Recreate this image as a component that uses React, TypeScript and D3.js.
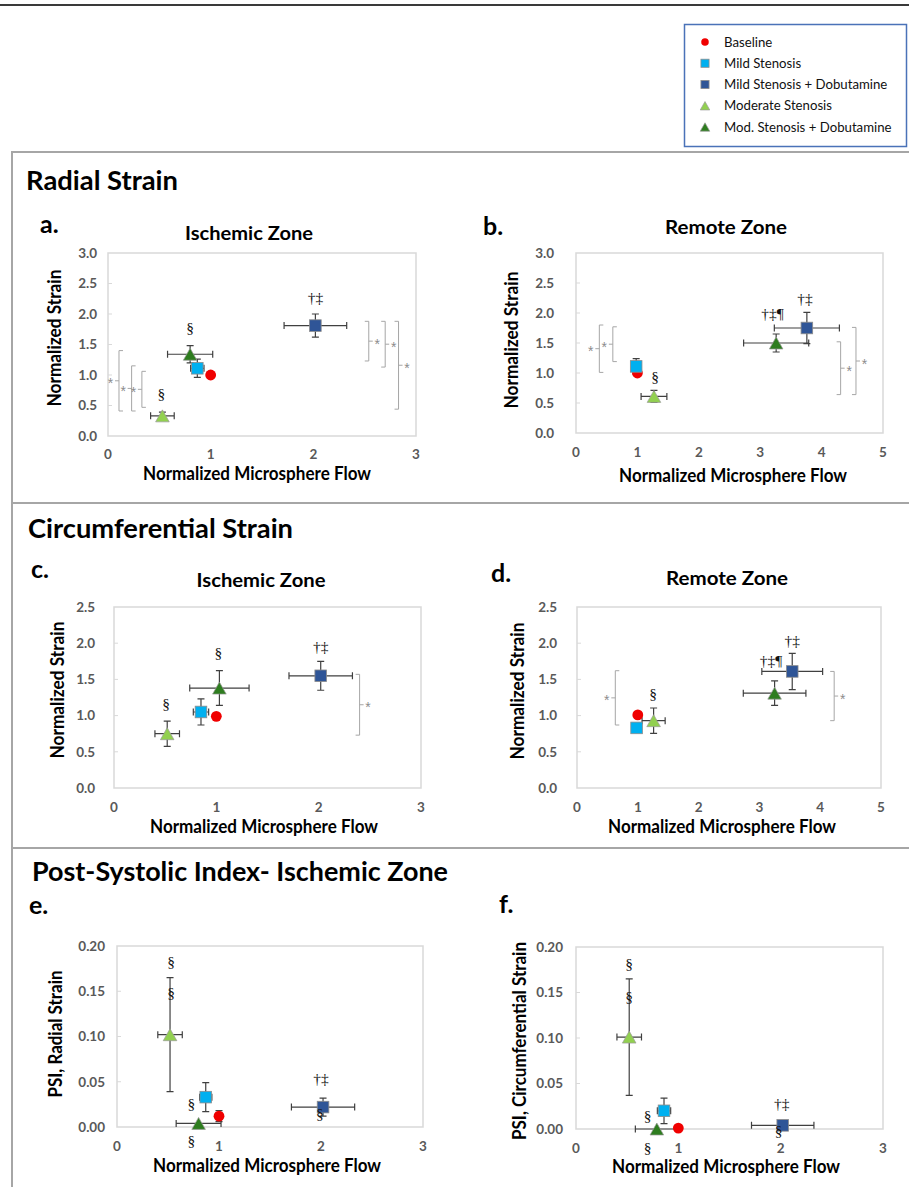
import * as d3 from "d3";

const SANS = "Lato, 'Open Sans', sans-serif";
const SERIF = "'Liberation Serif', 'DejaVu Serif', serif";

// groups, in drawing order
const groups = ["Baseline", "Mild Stenosis", "Mild Stenosis + Dobutamine", "Moderate Stenosis", "Mod. Stenosis + Dobutamine"];
const groupFill = ["#f00000", "#00b0f0", "#2f5597", "#92d050", "#2e7d1f"];
const groupShape = ["circle", "square", "square", "triangle", "triangle"];

// a. radial strain, ischemic zone
const radIscFlow = [1.0, 0.87, 2.02, 0.53, 0.8];
const radIscFlowErr = [0, 0.065, 0.305, 0.115, 0.22];
const radIscStrain = [1.0, 1.11, 1.81, 0.33, 1.34];
const radIscStrainErr = [0, 0.15, 0.19, 0.06, 0.14];

// b. radial strain, remote zone
const radRemFlow = [1.0, 0.98, 3.76, 1.27, 3.26];
const radRemFlowErr = [0, 0, 0.53, 0.21, 0.53];
const radRemStrain = [1.0, 1.11, 1.75, 0.61, 1.5];
const radRemStrainErr = [0, 0.13, 0.26, 0.1, 0.15];

// c. circumferential strain, ischemic zone
const circIscFlow = [1.0, 0.85, 2.02, 0.52, 1.03];
const circIscFlowErr = [0, 0.075, 0.31, 0.12, 0.29];
const circIscStrain = [0.99, 1.05, 1.55, 0.75, 1.38];
const circIscStrainErr = [0, 0.18, 0.2, 0.175, 0.24];

// d. circumferential strain, remote zone
const circRemFlow = [1.0, 0.98, 3.54, 1.26, 3.25];
const circRemFlowErr = [0, 0, 0.5, 0.19, 0.515];
const circRemStrain = [1.01, 0.83, 1.61, 0.93, 1.31];
const circRemStrainErr = [0, 0, 0.25, 0.175, 0.17];

// e. PSI radial strain
const psiRadFlow = [1.0, 0.87, 2.02, 0.52, 0.8];
const psiRadFlowErr = [0, 0.06, 0.31, 0.12, 0.22];
const psiRadValue = [0.012, 0.033, 0.022, 0.102, 0.004];
const psiRadValueErr = [0.006, 0.016, 0.01, 0.063, 0];

// f. PSI circumferential strain
const psiCircFlow = [1.0, 0.86, 2.02, 0.52, 0.79];
const psiCircFlowErr = [0, 0.065, 0.305, 0.12, 0.21];
const psiCircValue = [0.001, 0.02, 0.004, 0.101, 0.0];
const psiCircValueErr = [0, 0.014, 0, 0.064, 0];

// significance marks: [flow, value, text]
const notesA = [[0.8, 1.77, "§"], [0.52, 0.7, "§"], [2.02, 2.27, "†‡"]];
const notesB = [[1.29, 0.94, "§"], [3.2, 1.99, "†‡¶"], [3.73, 2.24, "†‡"]];
const notesC = [[0.51, 1.17, "§"], [1.02, 1.87, "§"], [2.02, 1.96, "†‡"]];
const notesD = [[1.25, 1.3, "§"], [3.19, 1.76, "†‡¶"], [3.54, 2.04, "†‡"]];
const notesE = [[0.53, 0.183, "§"], [0.53, 0.148, "§"], [0.73, 0.026, "§"], [0.73, -0.015, "§"], [2.0, 0.054, "†‡"], [1.99, 0.015, "§"]];
const notesF = [[0.52, 0.182, "§"], [0.52, 0.145, "§"], [0.7, 0.015, "§"], [0.7, -0.02, "§"], [2.01, 0.028, "†‡"], [1.98, -0.002, "§"]];

// comparison brackets: [flow, from, to, side]
const bracketsA = [[0.107, 0.41, 1.4, "L"], [0.23, 0.41, 1.15, "L"], [0.33, 0.47, 1.06, "L"], [2.54, 1.23, 1.88, "R"], [2.7, 1.13, 1.88, "R"], [2.83, 0.44, 1.88, "R"]];
const bracketsB = [[0.38, 1.01, 1.8, "L"], [0.6, 1.19, 1.77, "L"], [4.31, 0.64, 1.52, "R"], [4.56, 0.64, 1.76, "R"]];
const bracketsC = [[2.4, 0.73, 1.57, "R"]];
const bracketsD = [[0.63, 0.87, 1.62, "L"], [4.23, 0.93, 1.61, "R"]];

const panels = [
  { letter: "a.", lx: 40, ly: 233, title: "Ischemic Zone", tx: 249, ty: 240, tw: 128,
    box: [108, 253, 416, 436], xMax: 3, yMax: 3, yStep: 0.5, yFmt: ".1f", yGap: 11, xTickY: 459,
    yLabel: "Normalized Strain", ylx: 61, yly: 338, ylw: 137, xlx: 257, xly: 480,
    x: radIscFlow, xe: radIscFlowErr, y: radIscStrain, ye: radIscStrainErr, notes: notesA, brackets: bracketsA },
  { letter: "b.", lx: 483, ly: 235, title: "Remote Zone", tx: 726, ty: 234, tw: 122,
    box: [576, 253, 883, 433], xMax: 5, yMax: 3, yStep: 0.5, yFmt: ".1f", yGap: 22, xTickY: 457,
    yLabel: "Normalized Strain", ylx: 518, yly: 340, ylw: 137, xlx: 733, xly: 482,
    x: radRemFlow, xe: radRemFlowErr, y: radRemStrain, ye: radRemStrainErr, notes: notesB, brackets: bracketsB },
  { letter: "c.", lx: 31, ly: 578, title: "Ischemic Zone", tx: 261, ty: 587, tw: 129,
    box: [114, 607, 421, 788], xMax: 3, yMax: 2.5, yStep: 0.5, yFmt: ".1f", yGap: 19, xTickY: 812,
    yLabel: "Normalized Strain", ylx: 64, yly: 690, ylw: 137, xlx: 264, xly: 833,
    x: circIscFlow, xe: circIscFlowErr, y: circIscStrain, ye: circIscStrainErr, notes: notesC, brackets: bracketsC },
  { letter: "d.", lx: 491, ly: 582, title: "Remote Zone", tx: 727, ty: 585, tw: 122,
    box: [577, 607, 881, 788], xMax: 5, yMax: 2.5, yStep: 0.5, yFmt: ".1f", yGap: 20, xTickY: 812,
    yLabel: "Normalized Strain", ylx: 524, yly: 691, ylw: 137, xlx: 722, xly: 833,
    x: circRemFlow, xe: circRemFlowErr, y: circRemStrain, ye: circRemStrainErr, notes: notesD, brackets: bracketsD },
  { letter: "e.", lx: 29, ly: 914, title: "", tx: 0, ty: 0, tw: 0,
    box: [117, 946, 423, 1127], xMax: 3, yMax: 0.2, yStep: 0.05, yFmt: ".2f", yGap: 12, xTickY: 1151,
    yLabel: "PSI, Radial Strain", ylx: 62, yly: 1034, ylw: 127, xlx: 267, xly: 1172,
    x: psiRadFlow, xe: psiRadFlowErr, y: psiRadValue, ye: psiRadValueErr, notes: notesE, brackets: [] },
  { letter: "f.", lx: 499, ly: 913, title: "", tx: 0, ty: 0, tw: 0,
    box: [576, 947, 883, 1129], xMax: 3, yMax: 0.2, yStep: 0.05, yFmt: ".2f", yGap: 13, xTickY: 1153,
    yLabel: "PSI, Circumferential Strain", ylx: 526, yly: 1041, ylw: 198, xlx: 726, xly: 1173,
    x: psiCircFlow, xe: psiCircFlowErr, y: psiCircValue, ye: psiCircValueErr, notes: notesF, brackets: [] },
];

function Marker({ shape, fill, cx, cy, s = 1 }: any) {
  if (shape === "circle") return <circle cx={cx} cy={cy} r={5.4 * s} fill={fill} />;
  if (shape === "square") {
    const h = 5.8 * s;
    return <rect x={cx - h} y={cy - h} width={2 * h} height={2 * h} fill={fill} stroke="#8c8c8c" strokeWidth={0.8} />;
  }
  const w = 6.8 * s, h = 6 * s;
  return <path d={`M${cx},${cy - h}L${cx + w},${cy + h}L${cx - w},${cy + h}Z`} fill={fill} stroke="#9a9a9a" strokeWidth={0.7} />;
}

function Panel({ p }: any) {
  const [x0, y0, x1, y1] = p.box;
  const x = d3.scaleLinear().domain([0, p.xMax]).range([x0, x1]);
  const y = d3.scaleLinear().domain([0, p.yMax]).range([y1, y0]);
  const yTicks = d3.range(0, p.yMax + p.yStep / 2, p.yStep);
  const xTicks = d3.range(0, p.xMax + 1, 1);
  const fmt = d3.format(p.yFmt);
  const cap = 3.5;
  const ebar = "#404040";
  return (
    <g>
      <text x={p.lx} y={p.ly} fontFamily={SANS} fontWeight="bold" fontSize={25}>{p.letter}</text>
      {p.title && (
        <text x={p.tx} y={p.ty} textAnchor="middle" fontFamily={SANS} fontWeight="bold" fontSize={18}
          textLength={p.tw} lengthAdjust="spacingAndGlyphs">{p.title}</text>
      )}
      <rect x={x0} y={y0} width={x1 - x0} height={y1 - y0} fill="#fff" stroke="#d9d9d9" strokeWidth={1.5} />
      {yTicks.map((t: number, i: number) => (
        <g key={"yt" + i}>
          {i > 0 && i < yTicks.length - 1 && <line x1={x0} x2={x0 + 4} y1={y(t)} y2={y(t)} stroke="#d9d9d9" strokeWidth={1} />}
          <text x={x0 - p.yGap} y={y(t)} dy="0.36em" textAnchor="end" fontFamily={SANS} fontWeight="bold" fontSize={13.5} fill="#595959">
            {fmt(t)}
          </text>
        </g>
      ))}
      {xTicks.map((t: number) => (
        <text key={"xt" + t} x={x(t)} y={p.xTickY} textAnchor="middle" fontFamily={SANS} fontWeight="bold" fontSize={13.5} fill="#595959">
          {t}
        </text>
      ))}
      <text x={p.xlx} y={p.xly} textAnchor="middle" fontFamily={SANS} fontWeight="bold" fontSize={18}
        textLength={228} lengthAdjust="spacingAndGlyphs">Normalized Microsphere Flow</text>
      <text transform={`translate(${p.ylx},${p.yly}) rotate(-90)`} textAnchor="middle" fontFamily={SANS} fontWeight="bold" fontSize={18}
        textLength={p.ylw} lengthAdjust="spacingAndGlyphs">{p.yLabel}</text>

      {p.brackets.map((b: any, i: number) => {
        const bx = x(b[0]);
        const ya = y(b[1]);
        const yb = y(b[2]);
        const ym = (ya + yb) / 2;
        const dir = b[3] === "L" ? 1 : -1;
        return (
          <g key={"br" + i}>
            <path d={`M${bx + 4 * dir},${yb}H${bx}V${ya}H${bx + 4 * dir}M${bx},${ym}H${bx - 4 * dir}`}
              fill="none" stroke="#a6a6a6" strokeWidth={1} />
            <text x={bx - 8.5 * dir} y={ym + 7.5} textAnchor="middle" fontFamily="'Liberation Sans', sans-serif" fontSize={14} fill="#8c8c8c">*</text>
          </g>
        );
      })}

      {groups.map((g, i) => {
        const cx = x(p.x[i]);
        const cy = y(p.y[i]);
        return (
          <g key={"eb" + i} stroke={ebar} strokeWidth={1.2}>
            {p.xe[i] > 0 && (
              <path d={`M${x(p.x[i] - p.xe[i])},${cy}H${x(p.x[i] + p.xe[i])}M${x(p.x[i] - p.xe[i])},${cy - cap}V${cy + cap}M${x(p.x[i] + p.xe[i])},${cy - cap}V${cy + cap}`} fill="none" />
            )}
            {p.ye[i] > 0 && (
              <path d={`M${cx},${y(p.y[i] - p.ye[i])}V${y(p.y[i] + p.ye[i])}M${cx - cap},${y(p.y[i] - p.ye[i])}H${cx + cap}M${cx - cap},${y(p.y[i] + p.ye[i])}H${cx + cap}`} fill="none" />
            )}
          </g>
        );
      })}
      {groups.map((g, i) => (
        <Marker key={"mk" + i} shape={groupShape[i]} fill={groupFill[i]} cx={x(p.x[i])} cy={y(p.y[i])} />
      ))}
      {p.notes.map((n: any, i: number) => (
        <text key={"nt" + i} x={x(n[0])} y={y(n[1])} dy="0.35em" textAnchor="middle" fontFamily={SERIF} fontSize={15.5} fill="#111">
          {n[2]}
        </text>
      ))}
    </g>
  );
}

export default function App() {
  const legendY = d3.scalePoint().domain(groups).range([42, 127]);
  return (
    <svg width={909} height={1187} style={{ position: "absolute", left: 0, top: 0, background: "#fff" }}>
      <line x1={0} x2={909} y1={5} y2={5} stroke="#3a3a3a" strokeWidth={2} />

      <rect x={684.5} y={24.5} width={222} height={122} fill="#fff" stroke="#4a72b8" strokeWidth={1.5} />
      {groups.map((g, i) => (
        <g key={g}>
          <Marker shape={groupShape[i]} fill={groupFill[i]} cx={705} cy={legendY(g)} s={0.7} />
          <text x={724} y={(legendY(g) as number) + 4.5} fontFamily={SANS} fontSize={13.2} fill="#111">{g}</text>
        </g>
      ))}

      <path d="M909,152H12V1187M12,503H909M12,848H909" fill="none" stroke="#a6a6a6" strokeWidth={2} />

      <text x={26} y={190} fontFamily={SANS} fontWeight="bold" fontSize={27} textLength={152} lengthAdjust="spacingAndGlyphs">Radial Strain</text>
      <text x={28} y={538} fontFamily={SANS} fontWeight="bold" fontSize={27} textLength={265} lengthAdjust="spacingAndGlyphs">Circumferential Strain</text>
      <text x={32} y={881} fontFamily={SANS} fontWeight="bold" fontSize={27} textLength={416} lengthAdjust="spacingAndGlyphs">Post-Systolic Index- Ischemic Zone</text>

      {panels.map((p) => (
        <Panel key={p.letter} p={p} />
      ))}
    </svg>
  );
}
